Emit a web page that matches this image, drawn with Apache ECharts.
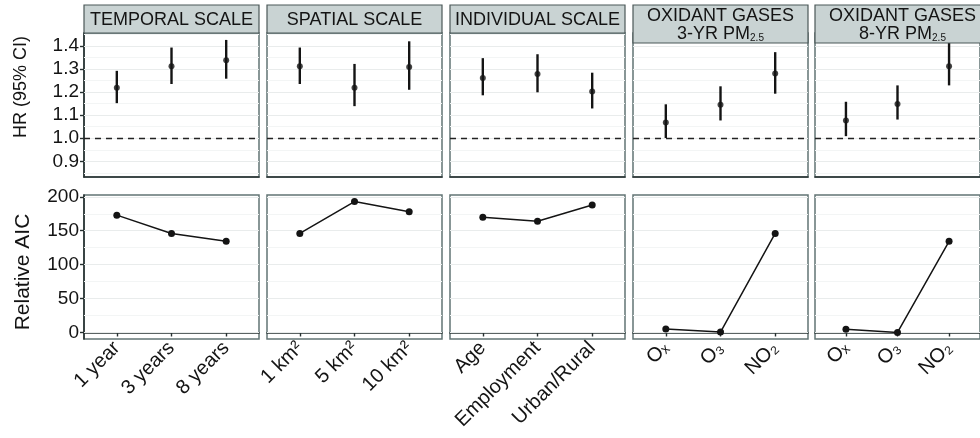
<!DOCTYPE html>
<html>
<head>
<meta charset="utf-8">
<script src="https://cdn.jsdelivr.net/npm/echarts@6/dist/echarts.min.js"></script>
<style>
  html, body { margin: 0; padding: 0; background: #fff; }
  #chart { width: 980px; height: 438px; }
</style>
</head>
<body>
<div id="chart"></div>
<script>
// panel titles
const panelTitles = ['TEMPORAL SCALE', 'SPATIAL SCALE', 'INDIVIDUAL SCALE',
  'OXIDANT GASES\n3-YR PM{sub|2.5}', 'OXIDANT GASES\n8-YR PM{sub|2.5}'];

// categories per panel
const catsTemporal = ['1 year', '3 years', '8 years'];
const catsSpatial = ['1 km²', '5 km²', '10 km²'];
const catsIndividual = ['Age', 'Employment', 'Urban/Rural'];
const catsOxidant = ['Oₓ', 'O₃', 'NO₂'];

// hazard ratios with 95% CI
const hrTemporal = [1.219, 1.312, 1.338];
const loTemporal = [1.152, 1.235, 1.258];
const hiTemporal = [1.292, 1.393, 1.426];
const hrSpatial = [1.312, 1.219, 1.309];
const loSpatial = [1.235, 1.139, 1.210];
const hiSpatial = [1.393, 1.322, 1.420];
const hrIndividual = [1.261, 1.278, 1.203];
const loIndividual = [1.186, 1.199, 1.129];
const hiIndividual = [1.347, 1.364, 1.284];
const hrOx3 = [1.068, 1.145, 1.280];
const loOx3 = [1.001, 1.077, 1.193];
const hiOx3 = [1.147, 1.225, 1.373];
const hrOx8 = [1.077, 1.148, 1.312];
const loOx8 = [1.009, 1.081, 1.229];
const hiOx8 = [1.158, 1.229, 1.450];

// relative AIC
const aicTemporal = [173, 146, 134.5];
const aicSpatial = [146, 193, 178];
const aicIndividual = [170, 164, 188];
const aicOx3 = [5, 0.7, 146];
const aicOx8 = [4.7, 0, 134.5];

// axis ticks
const hrTicks = [0.9, 1.0, 1.1, 1.2, 1.3, 1.4];
const hrMinor = [0.85, 0.95, 1.05, 1.15, 1.25, 1.35, 1.45];
const aicTicks = [0, 50, 100, 150, 200];
const aicMinor = [25, 75, 125, 175];

const panels = [
  { cats: catsTemporal, hr: hrTemporal, lo: loTemporal, hi: hiTemporal, aic: aicTemporal },
  { cats: catsSpatial, hr: hrSpatial, lo: loSpatial, hi: hiSpatial, aic: aicSpatial },
  { cats: catsIndividual, hr: hrIndividual, lo: loIndividual, hi: hiIndividual, aic: aicIndividual },
  { cats: catsOxidant, hr: hrOx3, lo: loOx3, hi: hiOx3, aic: aicOx3 },
  { cats: catsOxidant, hr: hrOx8, lo: loOx8, hi: hiOx8, aic: aicOx8 },
];

const FONT = "'Liberation Sans', Arial, sans-serif";
const INK = '#141414';
const panelLeft = [84, 267, 450, 633, 815];
const panelWidth = 175;
const headerHeight = [28, 28, 28, 38, 38];

const grids = [], xAxes = [], yAxes = [], series = [], graphics = [];

function gridLines(idx, major, minor) {
  return [
    {
      type: 'line', xAxisIndex: idx, yAxisIndex: idx, data: [], z: 1, silent: true,
      markLine: {
        z: 1, symbol: 'none', silent: true, animation: false, label: { show: false },
        lineStyle: { color: '#e9ecec', width: 1.2, type: 'solid' },
        data: major.map(v => ({ yAxis: v })),
      },
    },
    {
      type: 'line', xAxisIndex: idx, yAxisIndex: idx, data: [], z: 1, silent: true,
      markLine: {
        z: 1, symbol: 'none', silent: true, animation: false, label: { show: false },
        lineStyle: { color: '#f3f5f5', width: 1, type: 'solid' },
        data: minor.map(v => ({ yAxis: v })),
      },
    },
  ];
}

panels.forEach((p, i) => {
  const top = i, bot = i + 5;
  const left = panelLeft[i];

  grids[top] = { left: left, top: 33, width: panelWidth, height: 144, show: true,
    backgroundColor: '#fff', borderColor: '#627474', borderWidth: 1.5 };
  grids[bot] = { left: left, top: 195, width: panelWidth, height: 144, show: true,
    backgroundColor: '#fff', borderColor: '#627474', borderWidth: 1.5 };

  const xBase = {
    type: 'value', min: 0.4, max: 3.6,
    splitLine: { show: false },
    axisLine: { show: true, lineStyle: { color: '#263030', width: 1.6 } },
  };
  xAxes[top] = Object.assign({ gridIndex: top, axisTick: { show: false }, axisLabel: { show: false } }, xBase);
  xAxes[bot] = Object.assign({
    gridIndex: bot,
    axisTick: { show: true, customValues: [1, 2, 3], length: 4, lineStyle: { color: '#263030', width: 1.4 } },
    axisLabel: {
      show: true, customValues: [1, 2, 3], rotate: 45, margin: 6,
      fontSize: 20, fontFamily: FONT, color: INK,
      formatter: v => p.cats[Math.round(v) - 1],
    },
  }, xBase);

  const showY = i === 0;
  const yBase = {
    type: 'value', splitLine: { show: false },
    axisLine: { show: showY, lineStyle: { color: '#263030', width: 1.6 } },
  };
  yAxes[top] = Object.assign({
    gridIndex: top, min: 0.832, max: 1.456,
    axisTick: { show: showY, customValues: hrTicks, length: 4, lineStyle: { color: '#263030', width: 1.4 } },
    axisLabel: { show: showY, customValues: hrTicks, fontSize: 19, fontFamily: FONT, color: INK, margin: 5,
      formatter: v => v.toFixed(1) },
  }, yBase);
  yAxes[bot] = Object.assign({
    gridIndex: bot, min: -9.6, max: 202.7,
    axisTick: { show: showY, customValues: aicTicks, length: 4, lineStyle: { color: '#263030', width: 1.4 } },
    axisLabel: { show: showY, customValues: aicTicks, fontSize: 19, fontFamily: FONT, color: INK, margin: 5 },
  }, yBase);

  series.push(...gridLines(top, hrTicks, hrMinor));
  series.push(...gridLines(bot, aicTicks, aicMinor));

  // error bars
  series.push({
    type: 'custom', xAxisIndex: top, yAxisIndex: top, z: 3, silent: true,
    data: p.hr.map((_, k) => [k + 1, p.lo[k], p.hi[k]]),
    renderItem: (params, api) => {
      const a = api.coord([api.value(0), api.value(1)]);
      const b = api.coord([api.value(0), api.value(2)]);
      return { type: 'line', shape: { x1: a[0], y1: a[1], x2: b[0], y2: b[1] },
        style: { stroke: INK, lineWidth: 2.4 } };
    },
    markLine: {
      z: 2, symbol: 'none', silent: true, animation: false, label: { show: false },
      lineStyle: { color: '#222', width: 1.3, type: [6, 5] },
      data: [{ yAxis: 1.0 }],
    },
  });
  series.push({
    type: 'scatter', xAxisIndex: top, yAxisIndex: top, z: 4, silent: true,
    symbol: 'circle', symbolSize: 6, itemStyle: { color: INK },
    data: p.hr.map((v, k) => [k + 1, v]),
  });
  series.push({
    type: 'line', xAxisIndex: bot, yAxisIndex: bot, z: 4, silent: true,
    symbol: 'circle', symbolSize: 7, itemStyle: { color: INK },
    lineStyle: { color: INK, width: 1.5 },
    data: p.aic.map((v, k) => [k + 1, v]),
  });

  // strip header
  graphics.push({
    type: 'group', z: 100,
    children: [
      { type: 'rect', z: 100, shape: { x: left, y: 5, width: panelWidth, height: headerHeight[i] },
        style: { fill: '#c9d3d3', stroke: '#4b5858', lineWidth: 1.2 } },
      { type: 'text', z: 101, x: left + panelWidth / 2, y: 5 + headerHeight[i] / 2 + 1,
        style: { text: panelTitles[i], font: '18px ' + FONT, fill: INK, align: 'center',
          verticalAlign: 'middle', lineHeight: 18,
          rich: { sub: { fontSize: 10, fontFamily: FONT, fill: INK, verticalAlign: 'bottom', lineHeight: 18 } } } },
    ],
  });
});

graphics.push({ type: 'text', x: 21, y: 87, rotation: Math.PI / 2, z: 100,
  style: { text: 'HR (95% CI)', font: '18px ' + FONT, fill: INK, align: 'center', verticalAlign: 'middle' } });
graphics.push({ type: 'text', x: 23, y: 272, rotation: Math.PI / 2, z: 100,
  style: { text: 'Relative AIC', font: '21px ' + FONT, fill: INK, align: 'center', verticalAlign: 'middle' } });

const chart = echarts.init(document.getElementById('chart'));
chart.setOption({
  animation: false,
  backgroundColor: '#fff',
  grid: grids,
  xAxis: xAxes,
  yAxis: yAxes,
  series: series,
  graphic: graphics,
});
</script>
</body>
</html>
